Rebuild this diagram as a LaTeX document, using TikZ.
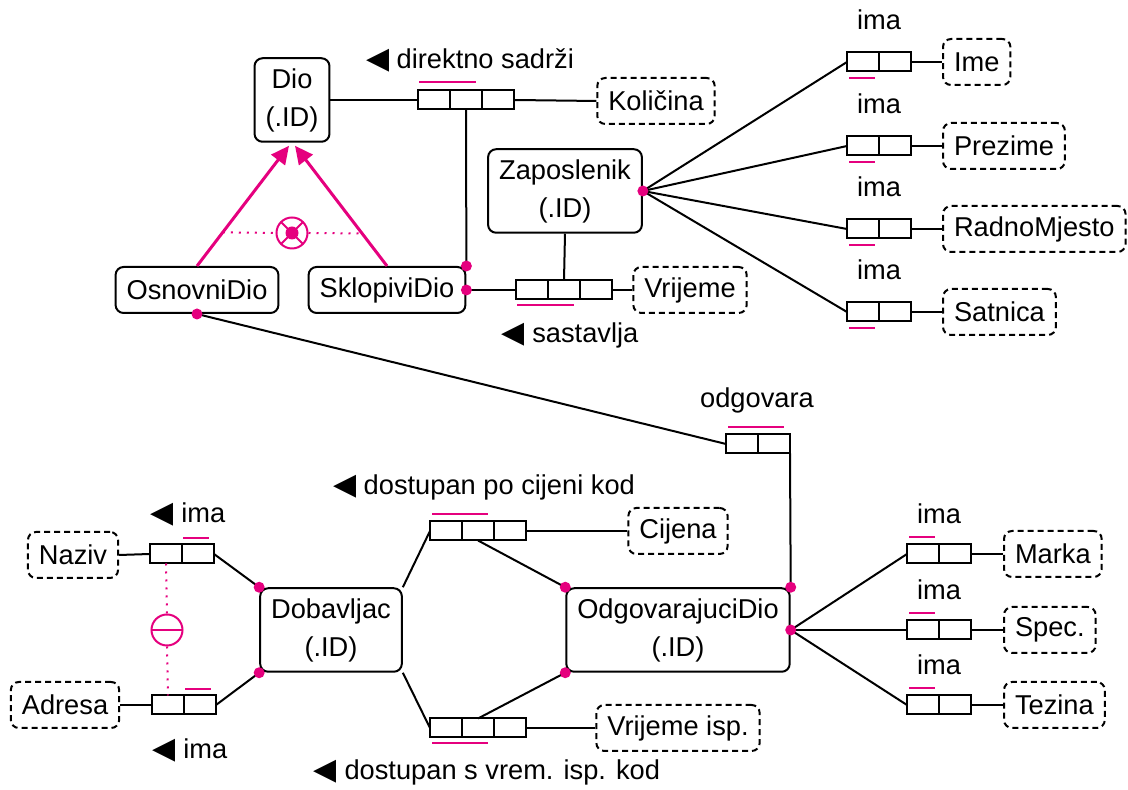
\documentclass[tikz,border=0pt]{standalone}
\usepackage{fontspec}
\setmainfont{Liberation Sans}
\newfontfamily\symfont{DejaVu Sans}
\usetikzlibrary{positioning,arrows.meta}
\definecolor{orm}{RGB}{229,0,126}
\newcommand{\rdir}{{\symfont\fontsize{12}{12}\selectfont ◀}}

\begin{document}
\begin{tikzpicture}[x=0.4pt, y=-0.4pt,
    font=\fontsize{10.9}{15.2}\selectfont,
    entity/.style={draw, line width=0.8pt, rounded corners=3.2pt, align=center,
      inner xsep=4.4pt, inner ysep=0pt, minimum height=18.4pt},
    twoline/.style={minimum height=33.4pt},
    value/.style={entity, dash pattern=on 2.4pt off 1.6pt},
    role/.style={draw, line width=0.8pt, minimum width=12.8pt, minimum height=7.6pt,
      inner sep=0pt, outer sep=0pt},
    link/.style={line width=0.8pt},
    ubar/.style={orm, line width=0.8pt},
    subtype/.style={orm, line width=1.2pt, -{Triangle[length=7.2pt,width=6.8pt]}},
    dotcon/.style={orm, line width=0.8pt, dash pattern=on 0.8pt off 2.4pt},
    lbl/.style={inner sep=0pt},
    euc/.style={circle, draw=orm, line width=0.8pt, minimum size=12.4pt, inner sep=0pt,
      path picture={\draw[orm, line width=0.8pt] (path picture bounding box.west) -- (path picture bounding box.east);}},
    xorc/.style={circle, draw=orm, line width=0.8pt, minimum size=12.4pt, inner sep=0pt,
      path picture={\draw[orm, line width=0.8pt] (path picture bounding box.north west) -- (path picture bounding box.south east)
        (path picture bounding box.north east) -- (path picture bounding box.south west);
        \fill[orm] (path picture bounding box.center) circle (2.6pt);}}]
\useasboundingbox (0,0) rectangle (1128,790);

% object types
\node[entity, twoline] (Dio) at (292,100) {Dio\\(.ID)};
\node[entity] (OsnovniDio) at (197,290) {OsnovniDio};
\node[entity] (SklopiviDio) at (387,290) {SklopiviDio};
\node[entity, twoline] (Zaposlenik) at (565,191) {Zaposlenik\\(.ID)};
\node[entity, twoline] (Dobavljac) at (331,630) {Dobavljac\\(.ID)};
\node[entity, twoline] (OdgovarajuciDio) at (678,630) {OdgovarajuciDio\\(.ID)};

\node[value] (Kolicina) at (656,101) {Količina};
\node[value] (Vrijeme) at (690,290) {Vrijeme};
\node[value] (Naziv) at (73,555) {Naziv};
\node[value] (Adresa) at (65,705) {Adresa};
\node[value] (Cijena) at (678,531) {Cijena};
\node[value] (VrijemeIsp) at (678,728) {Vrijeme isp.};

% subtypes
\draw[subtype] (OsnovniDio.north) -- coordinate[pos=0.28] (xl) ([xshift=-1.2pt,yshift=-1.2pt]Dio.south);
\draw[subtype] (SklopiviDio.north) -- coordinate[pos=0.27] (xr) ([xshift=1.2pt,yshift=-1.2pt]Dio.south);
\node[xorc] (xo) at (292,233) {};
\draw[dotcon] (xl) -- (xo.west);
\draw[dotcon] (xo.east) -- (xr);

% direktno sadrzi
\node[role] (ds1) at (434,100) {};
\node[role, right=0pt of ds1] (ds2) {};
\node[role, right=0pt of ds2] (ds3) {};
\node[lbl] (lblds) at (470,60) {\rdir\ direktno sadrži};
\draw[ubar] ([xshift=0.4pt,yshift=3.2pt]ds1.north west) -- ([xshift=-2.4pt,yshift=3.2pt]ds2.north east);
\draw[link] (Dio.east) -- (ds1.west);
\draw[link] (ds3.east) -- (Kolicina.west);
\draw[link] (ds2.south) -- (SklopiviDio.north east);

% sastavlja
\node[role] (sa1) at (532,290) {};
\node[role, right=0pt of sa1] (sa2) {};
\node[role, right=0pt of sa2] (sa3) {};
\node[lbl] (lblsa) at (570,335) {\rdir\ sastavlja};
\draw[ubar] ([xshift=0.4pt,yshift=-2.4pt]sa1.south west) -- ([xshift=-2.4pt,yshift=-2.4pt]sa2.south east);
\draw[link] (SklopiviDio.east) -- (sa1.west);
\draw[link] (Zaposlenik.south) -- (sa2.north);
\draw[link] (sa3.east) -- (Vrijeme.west);

% Zaposlenik ima ...
\foreach \nm/\y in {Ime/62, Prezime/146, RadnoMjesto/229, Satnica/312} {
  \node[role] (\nm1) at (863,\y) {};
  \node[role, right=0pt of \nm1] (\nm2) {};
  \node[value, anchor=west] (\nm) at (942,\y) {\nm};
  \node[lbl] (ima\nm) at (879,\y-42) {ima};
  \draw[ubar] ([xshift=0.8pt,yshift=-2.8pt]\nm1.south west) -- ([xshift=-1.6pt,yshift=-2.8pt]\nm1.south east);
  \draw[link] (Zaposlenik.east) -- (\nm1.west);
  \draw[link] (\nm2.east) -- (\nm.west);
}

% odgovara
\node[role] (od1) at (742,444) {};
\node[role, right=0pt of od1] (od2) {};
\node[lbl] (lblod) at (757,400) {odgovara};
\draw[ubar] ([xshift=0.8pt,yshift=2.8pt]od1.north west) -- ([xshift=-2.4pt,yshift=2.8pt]od2.north east);
\draw[link] (OsnovniDio.south) -- (od1.west);
\draw[link] (od2.south east) -- (OdgovarajuciDio.north east);

% dostupan po cijeni kod
\node[role] (dc1) at (446,531) {};
\node[role, right=0pt of dc1] (dc2) {};
\node[role, right=0pt of dc2] (dc3) {};
\node[lbl] (lbldc) at (484,487) {\rdir\ dostupan po cijeni kod};
\draw[ubar] ([xshift=0.8pt,yshift=2.8pt]dc1.north west) -- ([xshift=-2.4pt,yshift=2.8pt]dc2.north east);
\draw[link] (Dobavljac.north east) -- (dc1.west);
\draw[link] (dc2.south) -- (OdgovarajuciDio.north west);
\draw[link] (dc3.east) -- (Cijena.west);

% dostupan s vrem. isp. kod
\node[role] (dv1) at (446,728) {};
\node[role, right=0pt of dv1] (dv2) {};
\node[role, right=0pt of dv2] (dv3) {};
\node[lbl] (lbldv) at (487,772) {\rdir\ dostupan s vrem. isp. kod};
\draw[ubar] ([xshift=0.8pt,yshift=-2.4pt]dv1.south west) -- ([xshift=-2.4pt,yshift=-2.4pt]dv2.south east);
\draw[link] (Dobavljac.south east) -- (dv1.west);
\draw[link] (dv2.north) -- (OdgovarajuciDio.south west);
\draw[link] (dv3.east) -- (VrijemeIsp.west);

% Dobavljac ima Naziv / Adresa
\node[role] (nz1) at (166,554) {};
\node[role, right=0pt of nz1] (nz2) {};
\node[lbl] (lblnz) at (188,514) {\rdir\ ima};
\draw[ubar] ([xshift=0.4pt,yshift=2.4pt]nz2.north west) -- ([xshift=-2pt,yshift=2.4pt]nz2.north east);
\draw[link] (Naziv.east) -- (nz1.west);
\draw[link] (nz2.east) -- (Dobavljac.north west);
\node[role] (ad1) at (168,705) {};
\node[role, right=0pt of ad1] (ad2) {};
\node[lbl] (lblad) at (190,750) {\rdir\ ima};
\draw[ubar] ([xshift=0.4pt,yshift=2.4pt]ad2.north west) -- ([xshift=-2pt,yshift=2.4pt]ad2.north east);
\draw[link] (Adresa.east) -- (ad1.west);
\draw[link] (ad2.east) -- (Dobavljac.south west);
\node[euc] (eu) at (167,630) {};
\draw[dotcon] (nz1.south) -- (eu.north);
\draw[dotcon] (eu.south) -- (ad1.north);

% OdgovarajuciDio ima ...
\foreach \nm/\txt/\y in {Marka/Marka/554, Spec/Spec./630, Tezina/Tezina/705} {
  \node[role] (\nm1) at (923,\y) {};
  \node[role, right=0pt of \nm1] (\nm2) {};
  \node[value, anchor=west] (\nm) at (1003,\y) {\txt};
  \node[lbl] (ima\nm) at (939,\y-40) {ima};
  \draw[ubar] ([xshift=0.8pt,yshift=2.8pt]\nm1.north west) -- ([xshift=-1.6pt,yshift=2.8pt]\nm1.north east);
  \draw[link] (OdgovarajuciDio.east) -- (\nm1.west);
  \draw[link] (\nm2.east) -- (\nm.west);
}

% mandatory roles
\foreach \p in {SklopiviDio.north east, SklopiviDio.east, Zaposlenik.east, OsnovniDio.south,
    Dobavljac.north west, Dobavljac.south west, OdgovarajuciDio.north west,
    OdgovarajuciDio.south west, OdgovarajuciDio.north east, OdgovarajuciDio.east}
  \fill[orm] (\p) circle (2.2pt);
\end{tikzpicture}
\end{document}
